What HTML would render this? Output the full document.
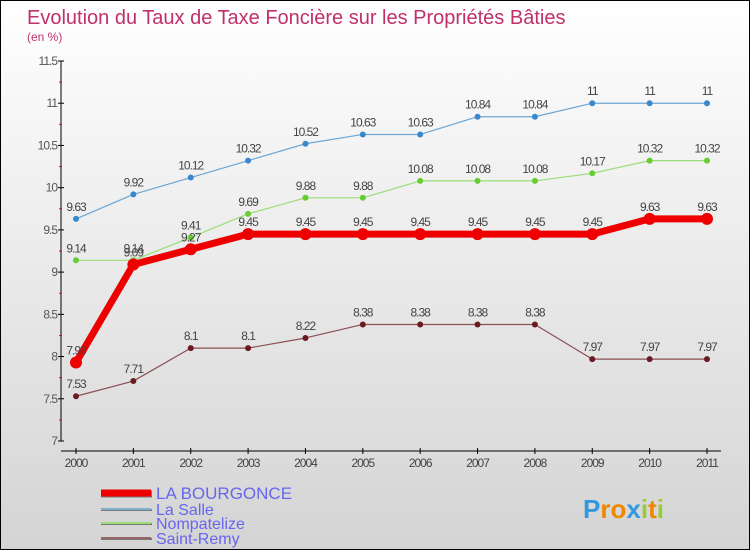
<!DOCTYPE html>
<html><head><meta charset="utf-8"><style>
body{margin:0;}
#c{width:748px;height:548px;border:1px solid #000;background:linear-gradient(#fff,#d4d4d4);position:relative;overflow:hidden;font-family:"Liberation Sans",sans-serif;}
</style></head><body>
<div id="c">
<svg id="s" width="748" height="548"></svg>
</div>
<script>
const years=["2000","2001","2002","2003","2004","2005","2006","2007","2008","2009","2010","2011"];
const bourgonce=[7.93,9.09,9.27,9.45,9.45,9.45,9.45,9.45,9.45,9.45,9.63,9.63];
const laSalle=[9.63,9.92,10.12,10.32,10.52,10.63,10.63,10.84,10.84,11,11,11];
const nompatelize=[9.14,9.14,9.41,9.69,9.88,9.88,10.08,10.08,10.08,10.17,10.32,10.32];
const saintRemy=[7.53,7.71,8.1,8.1,8.22,8.38,8.38,8.38,8.38,7.97,7.97,7.97];
const yTicks=[7,7.5,8,8.5,9,9.5,10,10.5,11,11.5];
const yTickLabels=["7","7.5","8","8.5","9","9.5","10","10.5","11","11.5"];
const names=["LA BOURGONCE","La Salle","Nompatelize","Saint-Remy"];

const NS="http://www.w3.org/2000/svg";
const svg=document.getElementById('s');
const x=i=>75+i*(631/11);
const y=v=>440-(v-7)*(380/4.5);
function el(t,a,p){const e=document.createElementNS(NS,t);for(const k in a)e.setAttribute(k,a[k]);(p||svg).appendChild(e);return e;}
function tx(str,a){const e=el('text',a);e.textContent=str;return e;}

let t=tx("Evolution du Taux de Taxe Foncière sur les Propriétés Bâties",{x:26,y:23,'font-size':20,fill:'#c0306a'});

t=tx("(en %)",{x:26,y:40,'font-size':12,fill:'#c0306a'});


let a=el('line',{x1:60,y1:60,x2:60,y2:440,stroke:'#000','stroke-width':1});

yTicks.forEach((v,i)=>{
  el('line',{x1:57,x2:63,y1:y(v),y2:y(v),stroke:'#000'});
  let l=tx(yTickLabels[i],{x:56,y:y(v)+4,'font-size':12,fill:'#555','text-anchor':'end','letter-spacing':'-1'});
  
  if(i<yTicks.length-1) el('line',{x1:58,x2:61,y1:y(v+0.25),y2:y(v+0.25),stroke:'#e00'});
});
a=el('line',{x1:60,y1:450,x2:720,y2:450,stroke:'#000'});

years.forEach((yr,i)=>{
  el('line',{x1:x(i),x2:x(i),y1:447,y2:453,stroke:'#000'});
  let l=tx(yr,{x:x(i),y:466,'font-size':12,fill:'#444','text-anchor':'middle','letter-spacing':'-1'});
  
});

function series(d,color,dot,lw,r,name,lblColor){
  const g=el('g',{});
  
  el('polyline',{points:d.map((v,i)=>x(i)+','+y(v)).join(' '),fill:'none',stroke:color,'stroke-width':lw,'stroke-linejoin':'round'},g);
  d.forEach((v,i)=>{
    const c=el('circle',{cx:x(i),cy:y(v),r:r,fill:dot},g);
    
    if(lblColor){const l=tx(String(v),{x:x(i),y:y(v)-8,'font-size':12,fill:lblColor,'text-anchor':'middle','letter-spacing':'-1'});g.appendChild(l);}
  });
}
series(saintRemy,'#8b4f55','#6a1a20',1.2,3,'saint-remy-series','#444');
series(nompatelize,'#99dd77','#66cc33',1.2,3,'nompatelize-series','#444');
series(laSalle,'#6aa6d6','#3a88cc',1.2,3,'la-salle-series','#444');
series(bourgonce,'#ee0000','#ee0000',7,6,'la-bourgonce-series','#444');

const lc=['#ee0000','#7fb0d0','#99dd77','#996666'],lw=[7,2,2,2],ly=[492,508,522,537];
names.forEach((n,i)=>{
  const g=el('g',{});
  
  el('line',{x1:100,x2:151,y1:ly[i]+1,y2:ly[i]+1,stroke:'#777','stroke-width':lw[i]},g);
  el('line',{x1:100,x2:150,y1:ly[i],y2:ly[i],stroke:lc[i],'stroke-width':lw[i]},g);
  const l=tx(n,{x:155,y:ly[i]+6,'font-size':i==0?17:16,fill:'#6666ee','letter-spacing':'0'});g.appendChild(l);
});
const lg=tx("",{x:582,y:517,'font-size':26,'font-weight':'bold'});

[["P","#3399dd"],["r","#ee8800"],["o","#ee8800"],["x","#3399dd"],["i","#99cc33"],["t","#ee8800"],["i","#99cc33"]].forEach(([c,f])=>{const s=el('tspan',{fill:f},lg);s.textContent=c;});
</script>
</body></html>
